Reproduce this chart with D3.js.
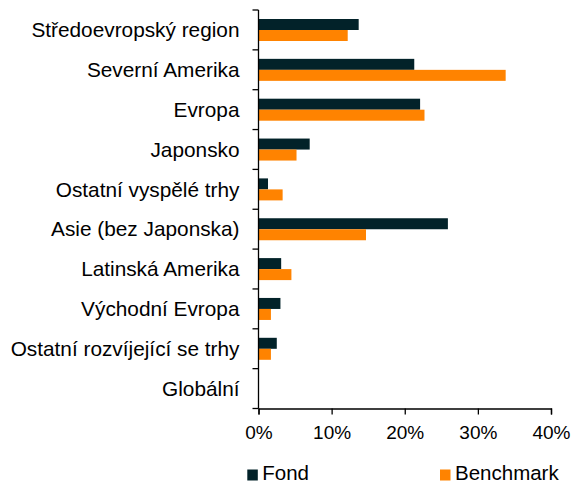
<!DOCTYPE html>
<html><head><meta charset="utf-8">
<script src="https://cdn.jsdelivr.net/npm/d3@7"></script>
<style>body{margin:0;background:#fff}svg{display:block}text{font-family:"Liberation Sans",Arial,sans-serif;fill:#000}</style>
</head><body><svg id="c" width="571" height="484"></svg>
<script>
const categories = ["Středoevropský region","Severní Amerika","Evropa","Japonsko","Ostatní vyspělé trhy","Asie (bez Japonska)","Latinská Amerika","Východní Evropa","Ostatní rozvíjející se trhy","Globální"];
const fond = [13.7,21.3,22.1,7.0,1.3,25.9,3.1,3.0,2.5,0];
const benchmark = [12.2,33.8,22.7,5.2,3.3,14.7,4.5,1.7,1.7,0];
const xTicks = [0,10,20,30,40];
const seriesNames = ["Fond","Benchmark"];
const colors = ["#022229","#ff8300"];

const svg = d3.select("#c");
const x = d3.scaleLinear().domain([0,40]).range([258.5,551]);
const y = d3.scaleBand().domain(categories).range([10,408.5]);
const inner = d3.scaleBand().domain(seriesNames).range([9,31]);

const g = svg.append("g");
categories.forEach((c,i)=>{
  [fond,benchmark].forEach((arr,j)=>{
    g.append("rect").attr("x",x(0)).attr("y",y(c)+inner(seriesNames[j]))
      .attr("width",x(arr[i])-x(0)).attr("height",inner.bandwidth())
      .attr("fill",colors[j]);
  });
});

// y axis
const ya = svg.append("g").attr("transform",`translate(${x(0)},0)`);
ya.append("line").attr("x1",0).attr("x2",0).attr("y1",10).attr("y2",408.5).attr("stroke","#000").attr("stroke-width",1.3);
const bounds = categories.map(c=>y(c)).concat([408.5]);
bounds.forEach(b=>ya.append("line").attr("x1",-6).attr("x2",0).attr("y1",b).attr("y2",b).attr("stroke","#000").attr("stroke-width",1.3));
categories.forEach(c=>{
  ya.append("text").attr("x",-19).attr("y",y(c)+y.bandwidth()/2).attr("dy","0.35em")
    .attr("text-anchor","end").attr("font-size",20.8).text(c);
});

// x axis
const xa = svg.append("g").attr("transform","translate(0,408.5)")
  .call(d3.axisBottom(x).tickValues(xTicks).tickSize(6).tickPadding(11).tickFormat(d=>d+"%"));
xa.select(".domain").attr("stroke","#000").attr("stroke-width",1.3);
xa.selectAll(".tick line").attr("stroke","#000").attr("stroke-width",1.3);
xa.selectAll("text").attr("font-size",19).attr("fill","#000").attr("font-family","Liberation Sans, Arial, sans-serif");

// legend
const legX = [247.3,440];
seriesNames.forEach((n,i)=>{
  svg.append("rect").attr("x",legX[i]).attr("y",469.5).attr("width",10.5).attr("height",11).attr("fill",colors[i]);
  svg.append("text").attr("x",legX[i]+15).attr("y",480).attr("font-size",20.5).text(n);
});
</script></body></html>
